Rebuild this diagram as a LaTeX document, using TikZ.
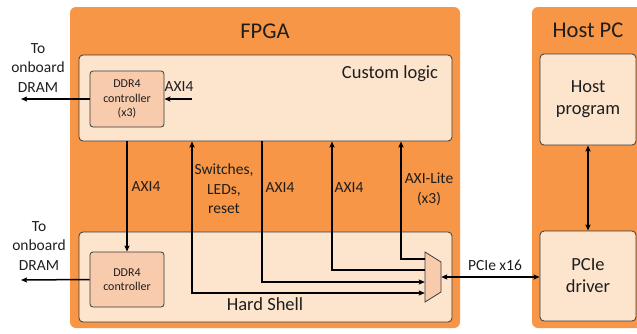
\documentclass[tikz,border=0pt]{standalone}
\usepackage{fontspec}
\setmainfont{Carlito}
\usetikzlibrary{arrows.meta}

\definecolor{chassisfill}{HTML}{F79646}
\definecolor{regionfill}{HTML}{FCE4CD}
\definecolor{ctrlfill}{HTML}{F8CBAD}
\definecolor{ink}{HTML}{1E1E1E}
\definecolor{edgeline}{HTML}{3A3A3A}

\begin{document}
\begin{tikzpicture}[x=1pt,y=-1pt,
  font=\color{ink},
  chassis/.style={fill=chassisfill, rounded corners=6pt, inner sep=0pt},
  region/.style={draw=edgeline, line width=0.8pt, fill=regionfill,
                 rounded corners=4pt, inner sep=0pt},
  ctrlbox/.style={draw=edgeline, line width=0.8pt, fill=ctrlfill,
                  rounded corners=3pt, inner sep=0pt, align=center,
                  minimum width=74pt, font=\fontsize{12}{14.5}\selectfont\color{ink}},
  hostbox/.style={region, align=center, minimum width=96pt,
                  font=\fontsize{18.5}{22}\selectfont\color{ink}},
  titletext/.style={font=\fontsize{22.5}{27}\selectfont\color{ink}},
  bigtext/.style={font=\fontsize{18.5}{22}\selectfont\color{ink}},
  sigtext/.style={align=center, inner sep=0pt,
                  font=\fontsize{15.5}{19.5}\selectfont\color{ink}},
  bus/.style={line width=1.5pt, black},
  >={Stealth[length=6pt,width=5pt,inset=1pt]}
]
\clip (0,0) rectangle (637,333);

% outer chassis: FPGA board and host machine
\node[chassis, minimum width=390pt, minimum height=321pt] (fpga) at (265,167.5) {};
\node[chassis, minimum width=116pt, minimum height=321pt] (host) at (590,167.5) {};
\node[titletext] (fpgatitle) at (265,31) {FPGA};
\node[titletext] (hosttitle) at (588,30) {Host PC};

% FPGA regions
\node[region, minimum width=373pt, minimum height=86pt] (custom) at (265.5,98) {};
\node[bigtext] (customtitle) at (390,74) {Custom logic};
\node[region, minimum width=373pt, minimum height=90pt] (shell) at (265.5,277) {};
\node[bigtext] (shelltitle) at (265,304) {Hard Shell};

% memory controllers
\node[ctrlbox, minimum height=56pt] (ddrcustom) at (127,99) {DDR4\\controller\\(x3)};
\node[ctrlbox, minimum height=55pt] (ddrshell) at (127,279.5) {DDR4\\controller};

% PCIe mux
\draw[draw=edgeline, line width=0.8pt, fill=ctrlfill]
  (425,252) -- (441,262) -- (441,292) -- (425,302) -- cycle;
\node[inner sep=0pt, minimum width=16pt, minimum height=50pt] (mux) at (433,277) {};

% host side
\node[hostbox, minimum height=91pt] (hostprog) at (588,99.5) {Host\\program};
\node[hostbox, minimum height=90pt] (pciedrv) at (588,276) {PCIe\\driver};

% free ends and bend points
\coordinate (dramtop) at (21,99);
\coordinate (dramlow) at (21,280);
\coordinate (axisrc) at (192,99);
\coordinate (bendsw) at (192,293);
\coordinate (bendaxa) at (262,282);
\coordinate (bendaxb) at (332,270);
\coordinate (bendlite) at (401,259);

% connectors
\draw[bus,->] (ddrcustom.west) -- (dramtop);
\draw[bus,->] (axisrc) -- (ddrcustom.east);
\draw[bus,->] (ddrshell.west) -- (dramlow);
\draw[bus,->] (ddrshell.north |- custom.south) -- (ddrshell.north);
\draw[bus,<->] (custom.south -| bendsw) |- (mux.west |- bendsw);
\draw[bus,->] (custom.south -| bendaxa) |- (mux.west |- bendaxa);
\draw[bus,<-] (custom.south -| bendaxb) |- (mux.west |- bendaxb);
\draw[bus,<-] (custom.south -| bendlite) |- (mux.west |- bendlite);
\draw[bus,<->] (mux.east) -- (mux.east -| pciedrv.west);
\draw[bus,<->] (hostprog.south) -- (pciedrv.north);

% signal labels
\node[sigtext] (dramtoplbl) at (38,68) {To\\onboard\\DRAM};
\node[sigtext] (dramlowlbl) at (39,246) {To\\onboard\\DRAM};
\node[sigtext] (axictrl) at (179,87) {AXI4};
\node[sigtext] (axidown) at (146,187) {AXI4};
\node[sigtext] (swlbl) at (224,189) {Switches,\\LEDs,\\reset};
\node[sigtext] (axialbl) at (280,188) {AXI4};
\node[sigtext] (axiblbl) at (349,188) {AXI4};
\node[sigtext] (litelbl) at (429,189) {AXI-Lite\\(x3)};
\node[sigtext] (pcielbl) at (495,265) {PCIe x16};
\end{tikzpicture}
\end{document}
